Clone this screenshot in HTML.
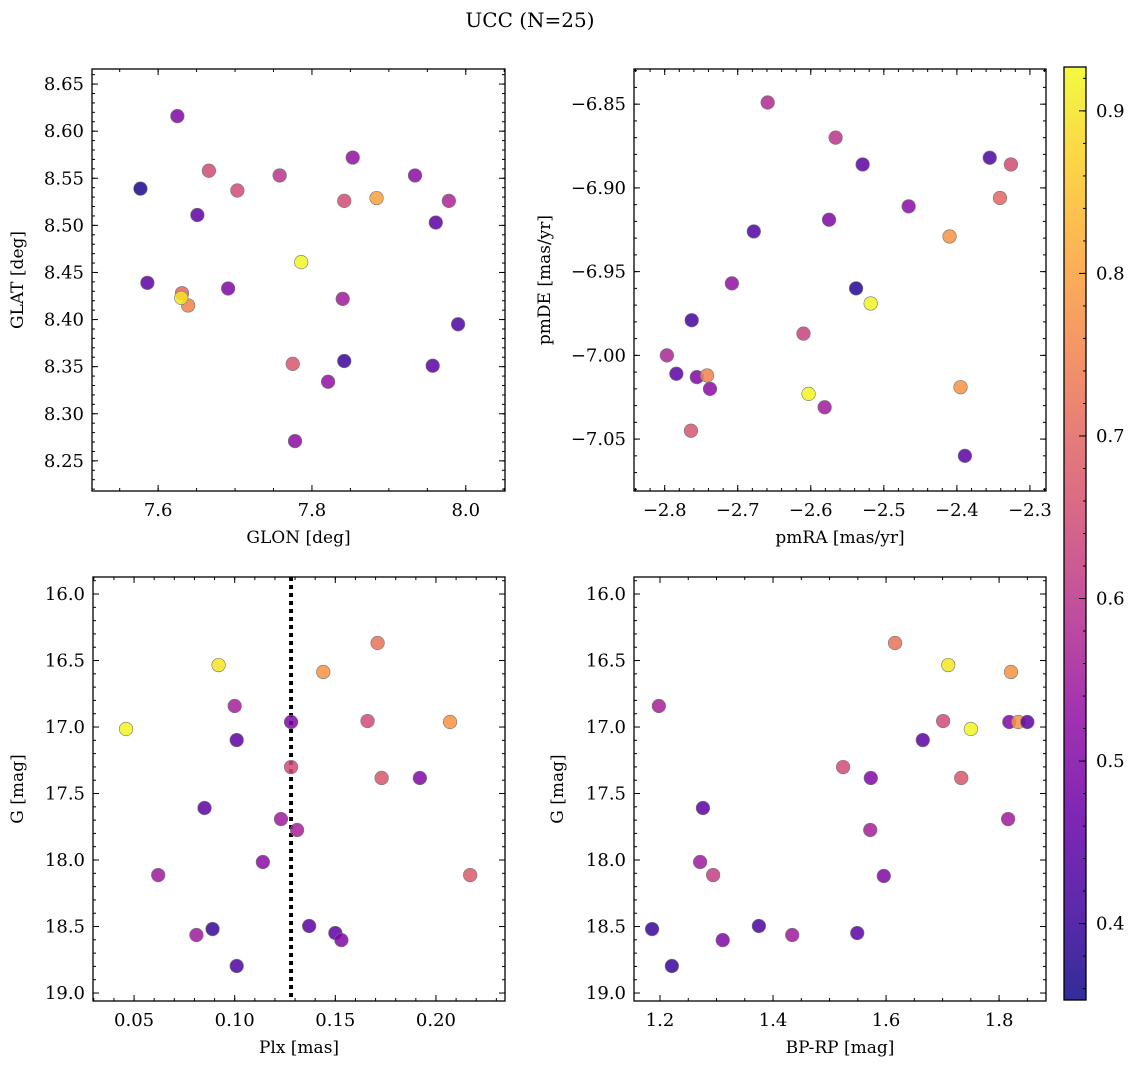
<!DOCTYPE html>
<html><head><meta charset="utf-8"><style>
html,body{margin:0;padding:0;background:#fff;}
svg{display:block;font-family:"DejaVu Serif","Liberation Serif",serif;}
</style></head><body>
<svg id="fig" width="1136" height="1067" viewBox="0 0 1136 1067" xmlns="http://www.w3.org/2000/svg">
<text x="530" y="27" font-size="20" text-anchor="middle">UCC (N=25)</text>
</svg>
<script>
// ---- data ----
const p1Glon = [7.577,7.625,7.666,7.703,7.758,7.853,7.842,7.884,7.934,7.978,7.651,7.961,7.786,7.586,7.631,7.639,7.630,7.691,7.840,7.990,7.842,7.957,7.775,7.821,7.778];
const p1Glat = [8.539,8.616,8.558,8.537,8.553,8.572,8.526,8.529,8.553,8.526,8.511,8.503,8.461,8.439,8.428,8.415,8.423,8.433,8.422,8.395,8.356,8.351,8.353,8.334,8.271];
const p1Col  = [0.37,0.5,0.65,0.65,0.6,0.53,0.65,0.8,0.52,0.57,0.45,0.45,0.92,0.45,0.7,0.75,0.9,0.5,0.55,0.43,0.4,0.45,0.67,0.53,0.52];
const p2PmRA = [-2.659,-2.566,-2.529,-2.355,-2.326,-2.341,-2.466,-2.575,-2.678,-2.410,-2.708,-2.538,-2.518,-2.763,-2.610,-2.797,-2.784,-2.756,-2.742,-2.738,-2.395,-2.603,-2.581,-2.764,-2.389];
const p2PmDE = [-6.849,-6.870,-6.886,-6.882,-6.886,-6.906,-6.911,-6.919,-6.926,-6.929,-6.957,-6.960,-6.969,-6.979,-6.987,-7.000,-7.011,-7.013,-7.012,-7.020,-7.019,-7.023,-7.031,-7.045,-7.060];
const p2Col  = [0.58,0.6,0.45,0.43,0.65,0.7,0.52,0.5,0.43,0.78,0.53,0.38,0.92,0.42,0.63,0.57,0.45,0.5,0.75,0.52,0.78,0.92,0.55,0.67,0.45];
const p3Plx  = [0.046,0.092,0.100,0.101,0.085,0.062,0.114,0.123,0.128,0.128,0.131,0.089,0.081,0.101,0.137,0.150,0.153,0.144,0.171,0.166,0.207,0.173,0.192,0.217];
const p3G    = [17.015,16.534,16.842,17.098,17.609,18.113,18.015,17.692,16.962,17.301,17.774,18.519,18.564,18.797,18.496,18.549,18.602,16.586,16.368,16.955,16.962,17.383,17.383,18.113];
const p3Col  = [0.92,0.9,0.56,0.45,0.45,0.55,0.52,0.55,0.5,0.65,0.56,0.4,0.55,0.43,0.45,0.45,0.5,0.78,0.72,0.65,0.78,0.67,0.5,0.68];
const p4BpRp = [1.198,1.276,1.271,1.294,1.186,1.221,1.311,1.375,1.434,1.549,1.524,1.573,1.572,1.596,1.616,1.710,1.665,1.701,1.750,1.733,1.821,1.818,1.834,1.850,1.816];
const p4G    = [16.842,17.609,18.015,18.113,18.519,18.797,18.602,18.496,18.564,18.549,17.301,17.383,17.774,18.120,16.368,16.534,17.098,16.955,17.015,17.383,16.586,16.962,16.962,16.962,17.692];
const p4Col  = [0.56,0.45,0.55,0.62,0.4,0.4,0.5,0.43,0.55,0.45,0.65,0.5,0.56,0.5,0.72,0.9,0.45,0.65,0.92,0.67,0.78,0.5,0.78,0.45,0.55];
const plxMedian = 0.128;
const cbTicks = [0.4,0.5,0.6,0.7,0.8,0.9];
const cbRange = [0.353,0.927];

const NS="http://www.w3.org/2000/svg";
const svg=document.getElementById('fig');
function mk(tag,attrs,parent){const e=document.createElementNS(NS,tag);for(const k in attrs)e.setAttribute(k,attrs[k]);(parent||svg).appendChild(e);return e;}
const stops=[[0,[13,8,135]],[0.1,[65,4,157]],[0.2,[106,0,168]],[0.3,[143,13,164]],[0.4,[177,42,144]],[0.5,[204,71,120]],[0.6,[225,100,98]],[0.7,[242,132,75]],[0.8,[252,166,54]],[0.9,[252,206,37]],[1,[240,249,33]]];
function plasma(t){t=Math.max(0,Math.min(1,t));for(let i=1;i<stops.length;i++){if(t<=stops[i][0]){const a=stops[i-1],b=stops[i];const f=(t-a[0])/(b[0]-a[0]);const c=a[1].map((v,j)=>Math.round(v+(b[1][j]-v)*f));return `rgb(${c[0]},${c[1]},${c[2]})`;}}return 'rgb(240,249,33)';}
function cmap(v){return plasma((v-cbRange[0])/(cbRange[1]-cbRange[0]));}
function fmt(v,d){const s=Math.abs(v).toFixed(d);return (v<-1e-9?'\u2212':'')+s;}

function panel(o){
  const g=mk('g',{});
  
  
  const X=v=>o.x0+(v-o.xr[0])/(o.xr[1]-o.xr[0])*(o.x1-o.x0);
  const Y=v=>o.inv? o.y0+(v-o.yr[0])/(o.yr[1]-o.yr[0])*(o.y1-o.y0) : o.y1-(v-o.yr[0])/(o.yr[1]-o.yr[0])*(o.y1-o.y0);
  const tg=mk('g',{stroke:'#000','stroke-width':1},g);
  
  
  const n=(a,b,s)=>{const r=[];for(let k=Math.ceil(a/s-1e-6);k*s<=b+1e-9;k++)r.push(+(k*s).toFixed(6));return r;};
  n(o.xr[0],o.xr[1],o.xminor).forEach(v=>{const x=X(v);mk('line',{x1:x,x2:x,y1:o.y1,y2:o.y1-3},tg);mk('line',{x1:x,x2:x,y1:o.y0,y2:o.y0+3},tg);});
  n(Math.min(...o.yr),Math.max(...o.yr),o.yminor).forEach(v=>{const y=Y(v);mk('line',{x1:o.x0,x2:o.x0+3,y1:y,y2:y},tg);mk('line',{x1:o.x1,x2:o.x1-3,y1:y,y2:y},tg);});
  o.xticks.forEach(v=>{const x=X(v);mk('line',{x1:x,x2:x,y1:o.y1,y2:o.y1-6},tg);mk('line',{x1:x,x2:x,y1:o.y0,y2:o.y0+6},tg);
    const t=mk('text',{x:x,y:o.y1+25,'font-size':18,'text-anchor':'middle'},g);t.textContent=fmt(v,o.xd);
    
    });
  o.yticks.forEach(v=>{const y=Y(v);mk('line',{x1:o.x0,x2:o.x0+6,y1:y,y2:y},tg);mk('line',{x1:o.x1,x2:o.x1-6,y1:y,y2:y},tg);
    const t=mk('text',{x:o.x0-8,y:y+6,'font-size':18,'text-anchor':'end'},g);t.textContent=fmt(v,o.yd);
    
    });
  if(o.vline!==undefined){const l=mk('line',{x1:X(o.vline),x2:X(o.vline),y1:o.y0,y2:o.y1,stroke:'#000','stroke-width':4,'stroke-dasharray':'4,4'},g);
    
    }
  o.xs.forEach((v,i)=>{const c=mk('circle',{cx:X(v),cy:Y(o.ys[i]),r:6.8,fill:cmap(o.cs[i]),'fill-opacity':0.85,stroke:'#777','stroke-width':0.6},g);
    
    });
  const b=mk('rect',{x:o.x0,y:o.y0,width:o.x1-o.x0,height:o.y1-o.y0,fill:'none',stroke:'#000','stroke-width':1.3},g);
  
  
  const xl=mk('text',{x:(o.x0+o.x1)/2,y:o.y1+52,'font-size':17,'text-anchor':'middle'},g);xl.textContent=o.xlabel;
  
  
  const yc=(o.y0+o.y1)/2;
  const yl=mk('text',{x:o.ylx,y:yc,'font-size':17,'text-anchor':'middle',transform:`rotate(-90 ${o.ylx} ${yc})`},g);yl.textContent=o.ylabel;
  
  
}
panel({name:'glon-glat-panel',x0:92,x1:505,y0:69,y1:491,xr:[7.514,8.051],yr:[8.218,8.666],xticks:[7.6,7.8,8.0],xd:1,xminor:0.05,yticks:[8.25,8.3,8.35,8.4,8.45,8.5,8.55,8.6,8.65],yd:2,yminor:0.01,xs:p1Glon,ys:p1Glat,cs:p1Col,xlabel:'GLON [deg]',ylabel:'GLAT [deg]',ylx:23});
panel({name:'pm-panel',x0:634,x1:1046,y0:69,y1:491,xr:[-2.842,-2.278],yr:[-7.081,-6.829],xticks:[-2.8,-2.7,-2.6,-2.5,-2.4,-2.3],xd:1,xminor:0.02,yticks:[-7.05,-7.0,-6.95,-6.9,-6.85],yd:2,yminor:0.01,xs:p2PmRA,ys:p2PmDE,cs:p2Col,xlabel:'pmRA [mas/yr]',ylabel:'pmDE [mas/yr]',ylx:550});
panel({name:'plx-g-panel',x0:93,x1:505,y0:577,y1:1001,inv:true,xr:[0.0296,0.2343],yr:[15.872,19.06],xticks:[0.05,0.1,0.15,0.2],xd:2,xminor:0.01,yticks:[16,16.5,17,17.5,18,18.5,19],yd:1,yminor:0.1,xs:p3Plx,ys:p3G,cs:p3Col,xlabel:'Plx [mas]',ylabel:'G [mag]',ylx:23,vline:plxMedian});
panel({name:'cmd-panel',x0:634,x1:1046,y0:577,y1:1001,inv:true,xr:[1.154,1.883],yr:[15.872,19.06],xticks:[1.2,1.4,1.6,1.8],xd:1,xminor:0.05,yticks:[16,16.5,17,17.5,18,18.5,19],yd:1,yminor:0.1,xs:p4BpRp,ys:p4G,cs:p4Col,xlabel:'BP-RP [mag]',ylabel:'G [mag]',ylx:563});

const cb=mk('g',{});


const defs=mk('defs',{},cb);
const lg=mk('linearGradient',{id:'cbg',x1:0,y1:1,x2:0,y2:0},defs);
for(let i=0;i<=20;i++){mk('stop',{offset:i/20,'stop-color':plasma(i/20),'stop-opacity':0.85},lg);}
const cbx0=1064,cbx1=1086,cby0=67,cby1=1000;
mk('rect',{x:cbx0,y:cby0,width:cbx1-cbx0,height:cby1-cby0,fill:'url(#cbg)'},cb);
const CY=v=>cby1-(v-cbRange[0])/(cbRange[1]-cbRange[0])*(cby1-cby0);
for(let k=Math.ceil(cbRange[0]/0.02);k*0.02<=cbRange[1];k++){const y=CY(k*0.02);mk('line',{x1:cbx1,x2:cbx1-3,y1:y,y2:y,stroke:'#000'},cb);}
cbTicks.forEach(v=>{const y=CY(v);mk('line',{x1:cbx1,x2:cbx1-7,y1:y,y2:y,stroke:'#000'},cb);
  const t=mk('text',{x:cbx1+10,y:y+6,'font-size':18},cb);t.textContent=v.toFixed(1);
  
  });
mk('rect',{x:cbx0,y:cby0,width:cbx1-cbx0,height:cby1-cby0,fill:'none',stroke:'#000','stroke-width':1.3},cb);
</script>
</body></html>
